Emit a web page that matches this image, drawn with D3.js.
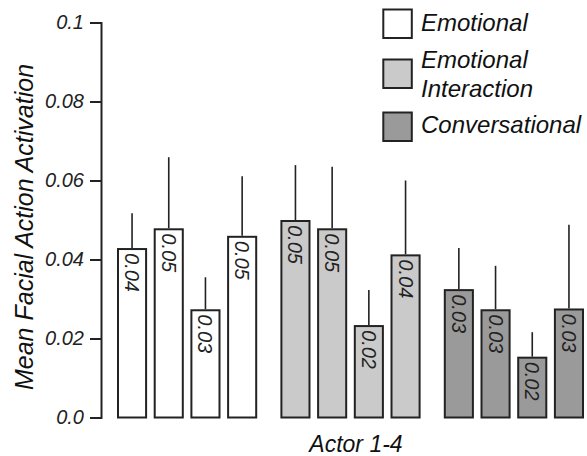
<!DOCTYPE html>
<html>
<head>
<meta charset="utf-8">
<script src="https://cdn.jsdelivr.net/npm/d3@7"></script>
<style>
  body { margin: 0; background: #fff; }
  svg text { font-family: "Liberation Sans", Arial, sans-serif; font-style: italic; }
</style>
</head>
<body>
<svg id="chart" width="587" height="456"></svg>
<script>
// Données
const conditions = ["Emotional", "Emotional Interaction", "Conversational"];
const actors = ["Actor 1", "Actor 2", "Actor 3", "Actor 4"];
const means = [
  [0.0429, 0.0479, 0.0274, 0.0460],
  [0.0500, 0.0479, 0.0234, 0.0413],
  [0.0325, 0.0274, 0.0154, 0.0276]
];
const errTops = [
  [0.0517, 0.0659, 0.0355, 0.0611],
  [0.0639, 0.0635, 0.0323, 0.0600],
  [0.0429, 0.0384, 0.0216, 0.0488]
];
const barLabels = [
  ["0.04", "0.05", "0.03", "0.05"],
  ["0.05", "0.05", "0.02", "0.04"],
  ["0.03", "0.03", "0.02", "0.03"]
];
const tickValues = [0, 0.02, 0.04, 0.06, 0.08, 0.1];
const tickLabels = ["0.0", "0.02", "0.04", "0.06", "0.08", "0.1"];
const legendLines = [["Emotional"], ["Emotional", "Interaction"], ["Conversational"]];

const fills = ["#ffffff", "#cacaca", "#9a9a9a"];
const stroke = "#222";

const svg = d3.select("#chart");

const y = d3.scaleLinear().domain([0, 0.1]).range([417.5, 22.5]);
const x0 = d3.scaleBand().domain(conditions).range([117, 584]).paddingInner(0.142);
const x1 = d3.scaleBand().domain(actors).range([0, x0.bandwidth()]).paddingInner(0.18);

// Axe Y
const yAxis = d3.axisLeft(y)
  .tickValues(tickValues)
  .tickFormat((d, i) => tickLabels[i])
  .tickSize(11)
  .tickPadding(6);

const gAxis = svg.append("g")
  .attr("transform", "translate(101,0)")
  .call(yAxis);
gAxis.select(".domain").attr("stroke", stroke).attr("stroke-width", 2);
gAxis.selectAll(".tick line").attr("stroke", stroke).attr("stroke-width", 2);
gAxis.selectAll(".tick text")
  .attr("fill", "#222")
  .style("font-size", "20px")
  .style("font-family", "Liberation Sans, Arial, sans-serif")
  .style("font-style", "italic");

// Barres
conditions.forEach((c, ci) => {
  const g = svg.append("g").attr("transform", `translate(${x0(c)},0)`);
  actors.forEach((a, ai) => {
    const bx = x1(a);
    const bw = x1.bandwidth();
    const cx = bx + bw / 2;
    // barre d'erreur (vers le haut seulement)
    g.append("line")
      .attr("x1", cx).attr("x2", cx)
      .attr("y1", y(means[ci][ai])).attr("y2", y(errTops[ci][ai]))
      .attr("stroke", stroke).attr("stroke-width", 1.6);
    g.append("rect")
      .attr("x", bx + 1).attr("y", y(means[ci][ai]) + 1)
      .attr("width", bw - 2).attr("height", y(0) - y(means[ci][ai]) - 1)
      .attr("fill", fills[ci])
      .attr("stroke", stroke).attr("stroke-width", 2);
    g.append("text")
      .attr("transform", `translate(${cx - 7},${y(means[ci][ai]) + 5}) rotate(90)`)
      .attr("font-size", "20px")
      .attr("fill", "#222")
      .text(barLabels[ci][ai]);
  });
});

// Légende
const legendY = [9.5, 59.5, 112.5];
const legendTextY = [30.5, 68, 97, 133];
let lineIdx = 0;
legendLines.forEach((lines, i) => {
  svg.append("rect")
    .attr("x", 383.3).attr("y", legendY[i])
    .attr("width", 28.5).attr("height", 28.5)
    .attr("fill", fills[i]).attr("stroke", stroke).attr("stroke-width", 2);
  lines.forEach(t => {
    svg.append("text")
      .attr("x", 421).attr("y", legendTextY[lineIdx++])
      .attr("font-size", "24px").attr("fill", "#111")
      .text(t);
  });
});

// Titres des axes
svg.append("text")
  .attr("transform", "translate(33,227) rotate(-90)")
  .attr("text-anchor", "middle")
  .attr("font-size", "25px").attr("fill", "#111")
  .text("Mean Facial Action Activation");

svg.append("text")
  .attr("x", 356).attr("y", 451.5)
  .attr("text-anchor", "middle")
  .attr("font-size", "23px").attr("fill", "#111")
  .text("Actor 1-4");
</script>
</body>
</html>
